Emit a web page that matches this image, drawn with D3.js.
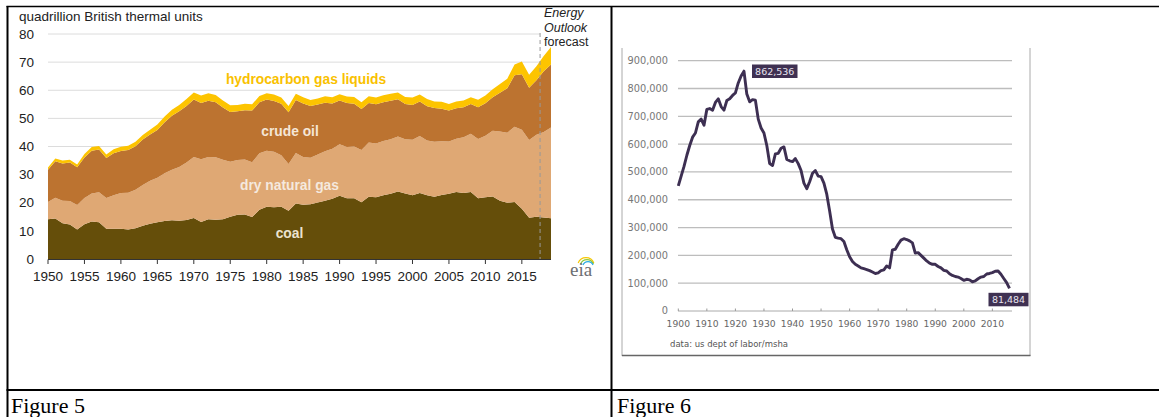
<!DOCTYPE html>
<html>
<head>
<meta charset="utf-8">
<script src="https://cdn.jsdelivr.net/npm/d3@7"></script>
<style>
  body { margin: 0; background: #fff; }
  svg { display: block; }
</style>
</head>
<body>
<div id="page"></div>
<script>
// ---- Figure 5 data (quadrillion Btu), 1950-2019
const years5 = d3.range(1950, 2020);
const coal = [14.1, 14.4, 12.7, 12.3, 10.5, 12.4, 13.3, 13.1, 10.8, 10.8,
  10.8, 10.5, 10.9, 11.8, 12.5, 13.1, 13.5, 13.8, 13.6, 13.9,
  14.6, 13.2, 14.1, 14.0, 14.1, 15.0, 15.7, 15.8, 14.9, 17.5,
  18.6, 18.4, 18.6, 17.2, 19.7, 19.3, 19.5, 20.1, 20.7, 21.4,
  22.5, 21.6, 21.6, 20.2, 22.1, 22.0, 22.7, 23.2, 24.0, 23.3,
  22.7, 23.5, 22.7, 22.1, 22.8, 23.2, 23.8, 23.5, 23.8, 21.6,
  22.0, 22.2, 20.7, 20.0, 20.3, 17.9, 14.7, 15.0, 14.8, 14.5];
const gas = [6.2, 7.4, 8.0, 8.3, 8.7, 9.3, 10.0, 10.6, 10.9, 11.9,
  12.7, 13.1, 13.7, 14.5, 15.3, 15.8, 17.0, 17.9, 19.1, 20.4,
  21.7, 22.3, 22.2, 22.2, 21.2, 19.6, 19.5, 19.6, 19.5, 20.1,
  19.9, 19.7, 18.3, 16.6, 18.0, 17.0, 16.5, 17.1, 17.6, 17.8,
  18.3, 18.2, 18.4, 18.6, 19.3, 19.1, 19.3, 19.4, 19.6, 19.3,
  19.7, 20.2, 19.4, 19.6, 19.1, 18.6, 19.0, 19.8, 20.7, 21.1,
  21.8, 23.4, 24.6, 24.9, 26.7, 28.1, 27.6, 29.2, 30.4, 32.3];
const oil = [11.4, 13.0, 13.3, 13.7, 13.4, 14.4, 15.2, 15.2, 14.2, 14.9,
  14.9, 15.2, 15.5, 16.2, 16.5, 17.0, 18.1, 19.2, 19.8, 20.1,
  20.4, 20.0, 20.0, 19.5, 18.6, 17.7, 17.3, 17.5, 18.4, 18.1,
  18.2, 18.1, 18.3, 18.4, 18.8, 19.0, 18.4, 17.7, 17.3, 16.1,
  15.6, 15.7, 15.2, 14.5, 14.1, 13.9, 13.7, 13.7, 13.2, 12.5,
  12.4, 12.3, 12.2, 12.0, 11.5, 11.0, 10.8, 10.7, 10.6, 11.3,
  11.6, 11.9, 13.8, 15.8, 18.3, 19.7, 18.6, 19.4, 21.6, 22.4];
const hgl = [0.8, 0.9, 1.0, 1.0, 1.0, 1.2, 1.3, 1.3, 1.3, 1.4,
  1.5, 1.5, 1.6, 1.6, 1.7, 1.9, 2.1, 2.2, 2.3, 2.5,
  2.5, 2.6, 2.6, 2.6, 2.5, 2.4, 2.3, 2.3, 2.2, 2.3,
  2.2, 2.3, 2.2, 2.2, 2.3, 2.2, 2.1, 2.2, 2.3, 2.2,
  2.2, 2.3, 2.4, 2.4, 2.4, 2.4, 2.5, 2.5, 2.4, 2.5,
  2.6, 2.5, 2.6, 2.3, 2.5, 2.3, 2.4, 2.4, 2.4, 2.6,
  2.7, 2.9, 3.1, 3.4, 3.9, 4.5, 4.6, 4.9, 5.4, 6.2];
const keys5 = ['coal', 'gas', 'oil', 'hgl'];
const colors5 = { coal: '#654e0a', gas: '#dfa874', oil: '#bc7330', hgl: '#fdc400' };
const yTicks5 = [0, 10, 20, 30, 40, 50, 60, 70, 80];
const xTicks5 = d3.range(1950, 2020, 5);

// ---- Figure 6 data: coal mining employment, 1900-2016
const years6 = d3.range(1900, 2017);
const jobs = [450, 485, 520, 560, 595, 625, 640, 680, 690, 668,
  725, 728, 722, 750, 763, 735, 722, 757, 763, 775,
  784, 820, 845, 862.5, 780, 752, 760, 758, 690, 658,
  640, 595, 530, 523, 565, 567, 585, 590, 545, 540,
  537, 548, 530, 505, 460, 440, 465, 495, 505, 485,
  483, 460, 420, 360, 295, 265, 262, 260, 250, 220,
  195, 178, 168, 162, 155, 152, 149, 145, 140, 135,
  137, 145, 148, 162, 155, 220, 222, 240, 255, 260,
  257, 252, 245, 208, 210, 200, 190, 180, 172, 168,
  168, 160, 155, 146, 144, 134, 128, 124, 122, 117,
  110, 114, 112, 105, 108, 116, 122, 124, 133, 135,
  138, 143, 144, 132, 117, 102, 81.484].map(v => v * 1000);
const yTicks6 = [0, 100000, 200000, 300000, 400000, 500000, 600000, 700000, 800000, 900000];
const xTicks6 = d3.range(1900, 2011, 10);

const W = 1159, H = 417;
const svg = d3.select('#page').append('svg')
  .attr('width', W)
  .attr('height', H);

svg.append('rect').attr('width', W).attr('height', H).attr('fill', '#fff');

// ================= Figure 5 =================
const x5 = d3.scaleLinear().domain([1950, 2019]).range([48, 551]);
const y5 = d3.scaleLinear().domain([0, 80]).range([259, 34]);
const f5 = svg.append('g').attr('font-family', 'Liberation Sans, Arial, sans-serif');

// gridlines
f5.selectAll('line.grid')
  .data(yTicks5.slice(1))
  .enter()
  .append('line')
  .attr('x1', 48).attr('x2', 540)
  .attr('y1', d => y5(d)).attr('y2', d => y5(d))
  .attr('stroke', '#dcdcdc')
  .attr('stroke-width', 1);

f5.selectAll('text.ylab')
  .data(yTicks5)
  .enter()
  .append('text')
  .attr('x', 34)
  .attr('y', d => y5(d))
  .attr('dy', '0.35em')
  .attr('text-anchor', 'end')
  .attr('font-size', 13.5)
  .attr('fill', '#222')
  .text(d => d);

const rows5 = years5.map((yr, i) => ({ year: yr, coal: coal[i], gas: gas[i], oil: oil[i], hgl: hgl[i] }));
const series5 = d3.stack().keys(keys5)(rows5);
const area5 = d3.area()
  .x(d => x5(d.data.year))
  .y0(d => y5(d[0]))
  .y1(d => y5(d[1]));

f5.selectAll('path.layer')
  .data(series5)
  .enter()
  .append('path')
  .attr('d', area5)
  .attr('fill', d => colors5[d.key]);

// x axis
f5.append('line')
  .attr('x1', 48).attr('x2', 551)
  .attr('y1', 259.5).attr('y2', 259.5)
  .attr('stroke', '#333').attr('stroke-width', 1);
f5.selectAll('line.xt')
  .data(xTicks5)
  .enter()
  .append('line')
  .attr('x1', d => x5(d)).attr('x2', d => x5(d))
  .attr('y1', 259.5).attr('y2', 264)
  .attr('stroke', '#333');
f5.selectAll('text.xlab')
  .data(xTicks5)
  .enter()
  .append('text')
  .attr('x', d => x5(d))
  .attr('y', 276)
  .attr('dy', '0.35em')
  .attr('text-anchor', 'middle')
  .attr('font-size', 13.5)
  .attr('fill', '#222')
  .text(d => d);

// forecast divider
f5.append('line')
  .attr('x1', x5(2017.5)).attr('x2', x5(2017.5))
  .attr('y1', 33).attr('y2', 259)
  .attr('stroke', '#999')
  .attr('stroke-dasharray', '4,3');

f5.append('text')
  .attr('x', 19).attr('y', 16).attr('dy', '0.35em')
  .attr('font-size', 13.5).attr('fill', '#222')
  .text('quadrillion British thermal units');

const fc = [['Energy', 'italic', 13], ['Outlook', 'italic', 27.5], ['forecast', 'normal', 42]];
f5.selectAll('text.fc')
  .data(fc)
  .enter()
  .append('text')
  .attr('x', 544)
  .attr('y', d => d[2])
  .attr('dy', '0.35em')
  .attr('font-size', 12.5)
  .attr('font-style', d => d[1])
  .attr('fill', '#222')
  .text(d => d[0]);

// series labels
const labels5 = [
  { t: 'hydrocarbon gas liquids', x: 306, y: 79, c: '#f9c100' },
  { t: 'crude oil', x: 290, y: 131, c: '#f5e6d6' },
  { t: 'dry natural gas', x: 289.5, y: 185.5, c: '#f5e9de' },
  { t: 'coal', x: 289.5, y: 233, c: '#ece3cf' }
];
f5.selectAll('text.lab')
  .data(labels5)
  .enter()
  .append('text')
  .attr('x', d => d.x)
  .attr('y', d => d.y)
  .attr('dy', '0.35em')
  .attr('text-anchor', 'middle')
  .attr('font-size', 13.8)
  .attr('font-weight', 'bold')
  .attr('fill', d => d.c)
  .text(d => d.t);

// eia logo
const logo = f5.append('g');
[['#f6c700', 9], ['#8dc63f', 7.5], ['#27a9e1', 6]].forEach((a, i) => {
  logo.append('path')
    .attr('d', d3.arc()({ innerRadius: a[1] - 1.2, outerRadius: a[1], startAngle: -1.2, endAngle: 1.2 }))
    .attr('transform', 'translate(' + (586 + i) + ',' + (266 + i * 0.5) + ')')
    .attr('fill', a[0]);
});
logo.append('text')
  .attr('x', 570).attr('y', 276)
  .attr('font-family', 'Liberation Serif, serif')
  .attr('font-size', 19)
  .attr('fill', '#6d6e71')
  .text('eia');

// ================= Figure 6 =================
const x6 = d3.scaleLinear().domain([1900, 2016]).range([678.3, 1009.5]);
const y6 = d3.scaleLinear().domain([0, 900000]).range([311, 60.7]);
const f6 = svg.append('g').attr('font-family', 'DejaVu Sans, sans-serif');

// frame of the pasted image
f6.append('line').attr('x1', 622).attr('x2', 622).attr('y1', 48).attr('y2', 356)
  .attr('stroke', '#aaa').attr('stroke-width', 1);
f6.append('line').attr('x1', 1030).attr('x2', 1030).attr('y1', 48).attr('y2', 356)
  .attr('stroke', '#aaa').attr('stroke-width', 1);
f6.append('line').attr('x1', 622).attr('x2', 1030.5).attr('y1', 355.5).attr('y2', 355.5)
  .attr('stroke', '#666').attr('stroke-width', 1.5);

f6.selectAll('line.grid')
  .data(yTicks6.slice(1))
  .enter()
  .append('line')
  .attr('x1', 678).attr('x2', 1012)
  .attr('y1', d => y6(d)).attr('y2', d => y6(d))
  .attr('stroke', '#bdbdbd')
  .attr('stroke-width', 1.3);

f6.selectAll('text.ylab')
  .data(yTicks6)
  .enter()
  .append('text')
  .attr('x', 668)
  .attr('y', d => y6(d))
  .attr('dy', '0.35em')
  .attr('text-anchor', 'end')
  .attr('font-size', 9.8)
  .attr('fill', '#777')
  .text(d => d3.format(',')(d));

// x axis
f6.append('line')
  .attr('x1', 678).attr('x2', 1012)
  .attr('y1', 311).attr('y2', 311)
  .attr('stroke', '#aaa');
f6.selectAll('line.xt')
  .data(xTicks6)
  .enter()
  .append('line')
  .attr('x1', d => x6(d)).attr('x2', d => x6(d))
  .attr('y1', 308.5).attr('y2', 311)
  .attr('stroke', '#999');
f6.selectAll('text.xlab')
  .data(xTicks6)
  .enter()
  .append('text')
  .attr('x', d => x6(d))
  .attr('y', 323.5)
  .attr('dy', '0.35em')
  .attr('text-anchor', 'middle')
  .attr('font-size', 9.2)
  .attr('fill', '#666')
  .text(d => d);

const line6 = d3.line()
  .x((d, i) => x6(years6[i]))
  .y(d => y6(d));
f6.append('path')
  .datum(jobs)
  .attr('d', line6)
  .attr('fill', 'none')
  .attr('stroke', '#3d2f52')
  .attr('stroke-width', 2.9)
  .attr('stroke-linejoin', 'round');

// value badges
const badges = [
  { t: '862,536', x: 752, y: 64.5, w: 45.5 },
  { t: '81,484', x: 988.5, y: 292.8, w: 40 }
];
const bg = f6.selectAll('g.badge')
  .data(badges)
  .enter()
  .append('g');
bg.append('rect')
  .attr('x', d => d.x).attr('y', d => d.y)
  .attr('width', d => d.w).attr('height', 13.5)
  .attr('fill', '#3f3152');
bg.append('text')
  .attr('x', d => d.x + d.w / 2)
  .attr('y', d => d.y + 7)
  .attr('dy', '0.35em')
  .attr('text-anchor', 'middle')
  .attr('font-size', 9.5)
  .attr('fill', '#e8e4ee')
  .text(d => d.t);

f6.append('text')
  .attr('x', 670).attr('y', 344).attr('dy', '0.35em')
  .attr('font-size', 8.5).attr('fill', '#555')
  .text('data: us dept of labor/msha');

// ================= document table =================
const tbl = svg.append('g').attr('stroke', '#000');
tbl.append('line').attr('x1', 6.5).attr('x2', W).attr('y1', 6.5).attr('y2', 6.5).attr('stroke-width', 1.5);
tbl.append('line').attr('x1', 7.5).attr('x2', 7.5).attr('y1', 6).attr('y2', H).attr('stroke-width', 2);
tbl.append('line').attr('x1', 611.5).attr('x2', 611.5).attr('y1', 6).attr('y2', H).attr('stroke-width', 2);
tbl.append('line').attr('x1', 6.5).attr('x2', W).attr('y1', 390).attr('y2', 390).attr('stroke-width', 2);

svg.selectAll('text.fig')
  .data([['Figure 5', 11], ['Figure 6', 617]])
  .enter()
  .append('text')
  .attr('x', d => d[1])
  .attr('y', 413)
  .attr('font-family', 'Liberation Serif, Times New Roman, serif')
  .attr('font-size', 22)
  .attr('fill', '#000')
  .text(d => d[0]);
</script>
</body>
</html>
